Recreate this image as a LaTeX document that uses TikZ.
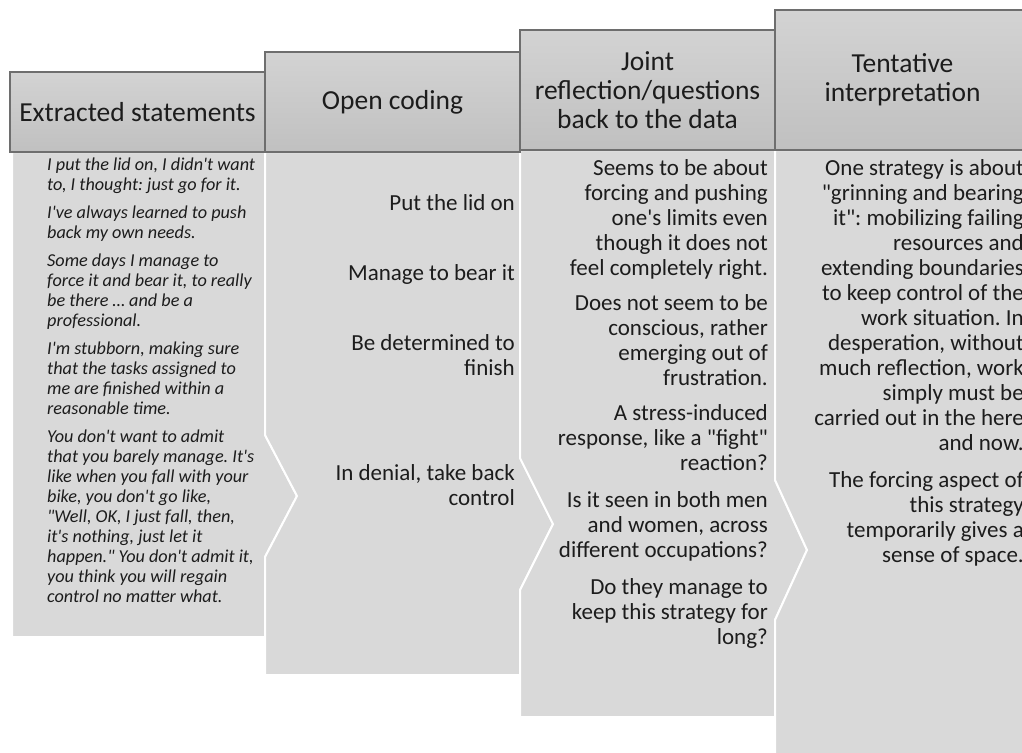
\documentclass[tikz,border=0pt]{standalone}
\usepackage{fontspec}
\setmainfont{Carlito}[Ligatures=TeXOff]
\frenchspacing
\definecolor{hdtop}{HTML}{D3D3D3}
\definecolor{hdbot}{HTML}{C0C0C0}
\definecolor{hdline}{HTML}{6E6E6E}
\definecolor{cellfill}{HTML}{D9D9D9}
\definecolor{ink}{HTML}{1C1C1C}

\begin{document}
\begin{tikzpicture}[x=1pt, y=-1pt,
header/.style={draw=hdline, line width=1.3pt, top color=hdtop, bottom color=hdbot, text=ink, align=center, inner sep=0pt, minimum width=255pt, font=\fontsize{27.5}{29}\selectfont},
cell/.style={fill=cellfill, draw=white, line width=2pt},
quote/.style={anchor=north west, align=left, inner sep=0pt, text=ink, font=\fontsize{18.2}{20}\selectfont\itshape},
code/.style={anchor=north east, align=right, inner sep=0pt, text=ink, font=\fontsize{23}{25}\selectfont}]
\useasboundingbox (0,0) rectangle (1022,752);
\clip (0,0) rectangle (1022,752);

\draw [cell] (12,152) -- (265,152) -- (265,435) -- (297,496) -- (265,557) -- (265,637) -- (12,637) -- cycle;
\draw [cell] (265,152) -- (520,152) -- (520,458) -- (553,524) -- (520,590) -- (520,675) -- (265,675) -- (265,557) -- (297,496) -- (265,435) -- cycle;
\draw [cell] (520,150) -- (775,150) -- (775,480) -- (807,550) -- (775,620) -- (775,717) -- (520,717) -- (520,590) -- (553,524) -- (520,458) -- cycle;
\draw [cell] (775,150) -- (1030,150) -- (1030,760) -- (775,760) -- (775,620) -- (807,550) -- (775,480) -- cycle;

\node [header, minimum height=80pt] (extracted) at (137.5,112) {Extracted statements};
\node [header, minimum height=100pt] (opencoding) at (392.5,102) {Open coding};
\node [header, minimum height=120pt] (reflection) at (647.5,90) {Joint\\reflection/questions\\back to the data};
\node [header, minimum height=140pt] (tentative) at (902.5,80) {Tentative\\interpretation};

\node [quote] (statements) at (47,156) {\strut I put the lid on, I didn't want\\
to, I thought: just go for it.\\[8pt]
I've always learned to push\\
back my own needs.\\[8pt]
Some days I manage to\\
force it and bear it, to really\\
be there … and be a\\
professional.\\[8pt]
I'm stubborn, making sure\\
that the tasks assigned to\\
me are finished within a\\
reasonable time.\\[8pt]
You don't want to admit\\
that you barely manage. It's\\
like when you fall with your\\
bike, you don't go like,\\
"Well, OK, I just fall, then,\\
it's nothing, just let it\\
happen." You don't admit it,\\
you think you will regain\\
control no matter what.};

\node [code] (lid) at (515,192.5) {\strut Put the lid on};
\node [code] (bear) at (515,262.5) {\strut Manage to bear it};
\node [code] (finish) at (515,332.5) {\strut Be determined to\\finish};
\node [code] (denial) at (515,462.5) {\strut In denial, take back\\control};

\node [code] (questions) at (768,157.5) {\strut Seems to be about\\
forcing and pushing\\
one's limits even\\
though it does not\\
feel completely right.\\[10pt]
Does not seem to be\\
conscious, rather\\
emerging out of\\
frustration.\\[10pt]
A stress-induced\\
response, like a "fight"\\
reaction?\\[12pt]
Is it seen in both men\\
and women, across\\
different occupations?\\[12pt]
Do they manage to\\
keep this strategy for\\
long?};

\node [code] (strategy) at (1024,157.5) {\strut One strategy is about\\
"grinning and bearing\\
it": mobilizing failing\\
resources and\\
extending boundaries\\
to keep control of the\\
work situation. In\\
desperation, without\\
much reflection, work\\
simply must be\\
carried out in the here\\
and now.\\[12pt]
The forcing aspect of\\
this strategy\\
temporarily gives a\\
sense of space.};
\end{tikzpicture}
\end{document}
